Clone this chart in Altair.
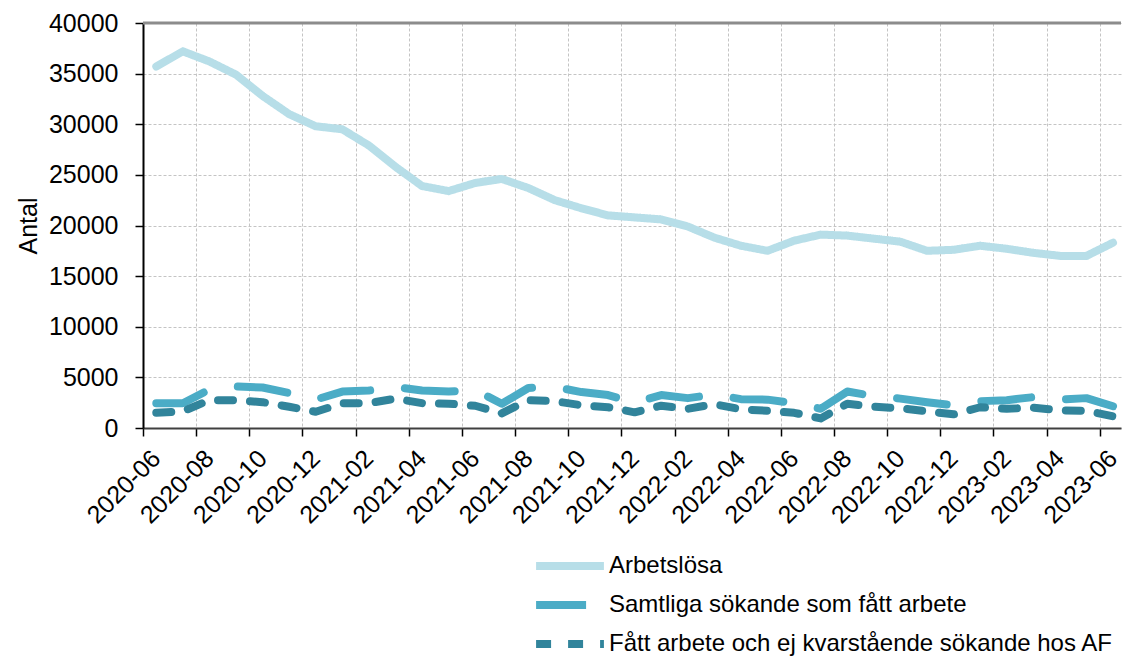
import altair as alt
import pandas as pd

months = ["2020-06", "2020-07", "2020-08", "2020-09", "2020-10", "2020-11", "2020-12",
          "2021-01", "2021-02", "2021-03", "2021-04", "2021-05", "2021-06", "2021-07",
          "2021-08", "2021-09", "2021-10", "2021-11", "2021-12", "2022-01", "2022-02",
          "2022-03", "2022-04", "2022-05", "2022-06", "2022-07", "2022-08", "2022-09",
          "2022-10", "2022-11", "2022-12", "2023-01", "2023-02", "2023-03", "2023-04",
          "2023-05", "2023-06"]

arbetslosa = [35700, 37200, 36200, 34900, 32800, 31000, 29800, 29500, 27900, 25800,
              23900, 23400, 24200, 24600, 23700, 22500, 21700, 21000, 20800, 20600,
              19900, 18800, 18000, 17500, 18500, 19100, 19000, 18700, 18400, 17500,
              17600, 18000, 17700, 17300, 17000, 17000, 18300]

samtliga = [2450, 2450, 3800, 4100, 4000, 3450, 2800, 3600, 3700, 4050,
            3700, 3600, 3750, 2400, 3950, 4050, 3550, 3250, 2500, 3250,
            2950, 3300, 2850, 2800, 2450, 1900, 3600, 3150, 2900, 2550,
            2250, 2650, 2750, 3050, 2800, 2950, 2150]

fatt = [1500, 1650, 2750, 2750, 2550, 2100, 1600, 2450, 2450, 2900,
        2450, 2400, 2200, 1450, 2750, 2650, 2250, 2050, 1550, 2200,
        1900, 2350, 1850, 1700, 1500, 950, 2400, 2100, 1950, 1650,
        1350, 2050, 1900, 2000, 1750, 1700, 1150]

series_names = ["Arbetslösa",
                "Samtliga sökande som fått arbete",
                "Fått arbete och ej kvarstående sökande hos AF"]
series_colors = ["#b7dee8", "#4bacc6", "#31849b"]
series_dashes = [[1, 0], [50, 35], [15, 17]]

y_ticks = [0, 5000, 10000, 15000, 20000, 25000, 30000, 35000, 40000]
x_tick_labels = ["2020-06", "2020-08", "2020-10", "2020-12", "2021-02", "2021-04",
                 "2021-06", "2021-08", "2021-10", "2021-12", "2022-02", "2022-04",
                 "2022-06", "2022-08", "2022-10", "2022-12", "2023-02", "2023-04",
                 "2023-06"]

rows = []
for name, vals in zip(series_names, [arbetslosa, samtliga, fatt]):
    for i, (m, v) in enumerate(zip(months, vals)):
        rows.append({"idx": i, "month": m, "serie": name, "antal": v})
df = pd.DataFrame(rows)

# ticks sit between months (category boundaries); labels refer to the month after the tick
tick_values = [months.index(m) - 0.5 for m in x_tick_labels]
label_expr = "[" + ",".join("'" + m + "'" for m in x_tick_labels) + "][round((datum.value + 0.5) / 2)]"

FONT = "Liberation Sans"

legend = alt.Legend(
    title=None, orient="none", legendX=389, legendY=531, direction="vertical",
    labelFontSize=24, labelColor="black", labelFont=FONT, labelLimit=800,
    symbolSize=4600, symbolStrokeWidth=8, symbolType="stroke", labelOffset=1,
    rowPadding=15, clipHeight=24, padding=0,
)

lines = alt.Chart(df).mark_line(strokeWidth=8, strokeCap="round", strokeJoin="round").encode(
    x=alt.X("idx:Q",
            scale=alt.Scale(domain=[-0.5, 36.3], nice=False, zero=False),
            axis=alt.Axis(values=tick_values, labelExpr=label_expr, labelAngle=315,
                          labelAlign="right", labelBaseline="middle", labelOffset=13,
                          labelFontSize=25, labelColor="black", labelPadding=18,
                          tickSize=8, tickColor="black", tickWidth=1.5,
                          domainColor="#404040", domainWidth=2,
                          gridColor="#c4c4c4", gridDash=[3, 2], gridWidth=1,
                          labelOverlap=False, labelFlush=False),
            title=None),
    y=alt.Y("antal:Q",
            scale=alt.Scale(domain=[0, 40000], nice=False),
            axis=alt.Axis(values=y_ticks, title="Antal", format="d", labelFontSize=25,
                          labelColor="black", labelPadding=17, tickSize=8,
                          tickColor="black", tickWidth=1.5, domainColor="black",
                          domainWidth=2, gridColor="#c4c4c4", gridDash=[3, 2],
                          gridWidth=1, titleFontSize=25, titleFontWeight="normal",
                          titleColor="black", titlePadding=7, labelOverlap=False,
                          labelFlush=False)),
    color=alt.Color("serie:N", scale=alt.Scale(domain=series_names, range=series_colors),
                    legend=legend),
    strokeDash=alt.StrokeDash("serie:N", scale=alt.Scale(domain=series_names, range=series_dashes),
                              legend=legend),
)

top_rule = alt.Chart().mark_rule(color="#8c8c8c", strokeWidth=3).encode(y=alt.datum(40000))

chart = alt.layer(lines, top_rule).properties(
    width=978, height=405,
    autosize=alt.AutoSizeParams(type="none"),
    padding={"left": 135, "top": 15, "right": 1, "bottom": 230},
).configure(font=FONT).configure_view(stroke=None)

chart.save("out.html", embed_options={"renderer": "svg", "actions": False})
